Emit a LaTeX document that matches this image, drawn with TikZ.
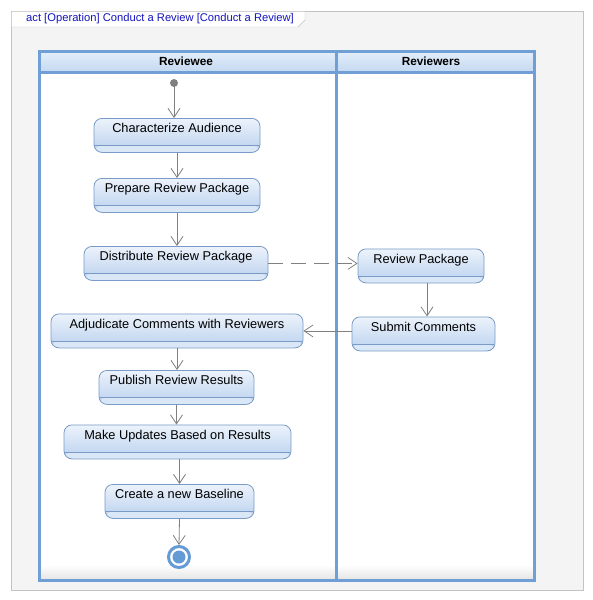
\documentclass[tikz,border=0pt]{standalone}
\usepackage{fontspec}
\setmainfont{Liberation Sans}
\usetikzlibrary{arrows.meta}
\definecolor{lanecol}{RGB}{111,159,212}
\definecolor{nodeborder}{RGB}{122,155,200}
\definecolor{nodetop}{RGB}{236,243,251}
\definecolor{nodebot}{RGB}{186,209,238}
\definecolor{stripcol}{RGB}{218,231,247}
\definecolor{arrowcol}{RGB}{128,128,128}
\definecolor{titleblue}{RGB}{20,20,190}
\definecolor{framecol}{RGB}{195,195,195}
\definecolor{framebg}{RGB}{244,244,244}
\definecolor{hdrtop}{RGB}{228,238,250}
\definecolor{hdrbot}{RGB}{196,217,241}
\definecolor{finalcol}{RGB}{100,155,215}
\begin{document}
\begin{tikzpicture}[x=1pt,y=-1pt,
  act/.style={draw=nodeborder, line width=0.8pt, rounded corners=8pt,
    top color=nodetop, bottom color=nodebot, anchor=north,
    font=\fontsize{12.8}{14}\selectfont, inner ysep=0pt,
    text height=14.5pt, text depth=19.5pt,
    path picture={
      \fill[stripcol] ([yshift=7pt]path picture bounding box.south west) rectangle (path picture bounding box.south east);
      \draw[nodeborder, line width=0.6pt] ([yshift=7pt]path picture bounding box.south west) -- ([yshift=7pt]path picture bounding box.south east);}},
  flow/.style={draw=arrowcol, line width=0.8pt, -{Straight Barb[length=9pt,width=12pt]}},
  dashflow/.style={flow, dash pattern=on 15pt off 8pt},
  lane/.style={draw=lanecol, line width=3pt},
  hdr/.style={font=\fontsize{11.8}{13}\bfseries\selectfont},
  titletext/.style={font=\fontsize{11.2}{13}\selectfont, text=titleblue},
  initnode/.style={circle, fill=arrowcol, inner sep=0pt, minimum size=8pt},
  finalnode/.style={circle, draw=finalcol, line width=3pt, fill=white, inner sep=0pt, minimum size=21pt,
    path picture={\fill[finalcol] (path picture bounding box.center) circle (6.5pt);}}
]
\useasboundingbox (0,0) rectangle (592,600);
\fill[white] (0,0) rectangle (592,600);
% frame
\draw[framecol, fill=framebg] (11.5,11.5) rectangle (583.5,590.5);
\draw[framecol, fill=white] (11.5,11.5) -- (305,11.5) -- (305,20) -- (298,27) -- (11.5,27) -- cycle;
\node[titletext, anchor=west, inner sep=0pt] (title) at (26,19) {act [Operation] Conduct a Review [Conduct a Review]};
% lanes
\fill[white] (39,51) rectangle (534,580);
\shade[top color=hdrtop, bottom color=hdrbot] (39,51) rectangle (534,72);
\shade[top color=white, bottom color=black!10] (40,565) rectangle (533,579);
\draw[lane] (39,51) rectangle (534,580);
\draw[lane] (39,72) -- (534,72);
\draw[lane] (336,51) -- (336,580);
\node[hdr] (h1) at (186,61.5) {Reviewee};
\node[hdr] (h2) at (431,61.5) {Reviewers};
% nodes
\node[initnode] (init) at (174,83) {};
\node[act, minimum width=166pt] (ca) at (177,118) {Characterize Audience};
\node[act, minimum width=166pt] (pr) at (177,178) {Prepare Review Package};
\node[act, minimum width=184pt] (dr) at (176,246) {Distribute Review Package};
\node[act, minimum width=252pt] (ad) at (177,313.5) {Adjudicate Comments with Reviewers};
\node[act, minimum width=155pt] (pu) at (176.5,370) {Publish Review Results};
\node[act, minimum width=227pt] (mk) at (177.5,424.5) {Make Updates Based on Results};
\node[act, minimum width=149pt] (cr) at (179.5,484) {Create a new Baseline};
\node[finalnode] (fin) at (179,557) {};
\node[act, minimum width=126pt] (rp) at (421,248.5) {Review Package};
\node[act, minimum width=143pt] (sc) at (423.5,316.5) {Submit Comments};
% flows
\draw[flow] (init) -- (init |- ca.north);
\draw[flow] (ca.south) -- (pr.north);
\draw[flow] (pr.south) -- (dr.north -| pr.south);
\draw[dashflow] (dr.east) -- (dr.east -| rp.west);
\draw[flow] ([xshift=6pt]rp.south) -- ([xshift=6pt]rp.south |- sc.north);
\draw[flow] (sc.west |- ad.east) -- (ad.east);
\draw[flow] (ad.south) -- (pu.north -| ad.south);
\draw[flow] (pu.south) -- (mk.north -| pu.south);
\draw[flow] (mk.south -| cr.north) -- (cr.north);
\draw[flow] (cr.south) -- (fin.north);
\end{tikzpicture}
\end{document}
